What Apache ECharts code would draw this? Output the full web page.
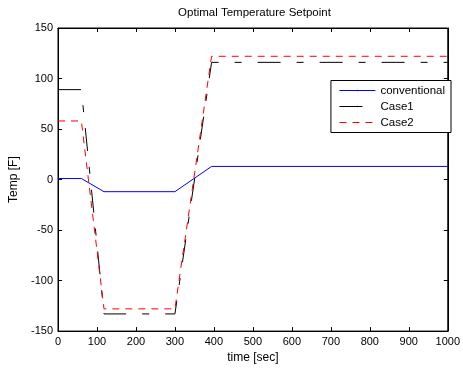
<!DOCTYPE html>
<html>
<head>
<meta charset="utf-8">
<script src="https://cdn.jsdelivr.net/npm/echarts@6/dist/echarts.min.js"></script>
<style>html,body{margin:0;padding:0;background:#fff;}#chart{width:463px;height:369px;}</style>
</head>
<body>
<div id="chart"></div>
<script>
var timeSec = [0, 60, 118, 300, 394, 1000];
var conventional = [1, 1, -12, -12, 13, 13];
var case1 = [89, 89, -133, -133, 116, 116];
var case2 = [58, 58, -128, -128, 122, 122];
var xTicks = [0, 100, 200, 300, 400, 500, 600, 700, 800, 900, 1000];
var yTicks = [-150, -100, -50, 0, 50, 100, 150];
var seriesNames = ['conventional', 'Case1', 'Case2'];

function pairs(vals) { return timeSec.map(function (t, i) { return [t, vals[i]]; }); }

var FONT = '"Liberation Sans", Arial, sans-serif';
var colors = ['#0000ff', '#000000', '#ff0000'];
var dashes = ['solid', [23, 16, 7, 16], [7, 6]];
var chart = echarts.init(document.getElementById('chart'), null, {renderer: 'canvas'});
function axisCommon() {
  return {
    axisLine: {show: true, onZero: false, lineStyle: {color: '#000', width: 1}},
    axisTick: {show: true, inside: true, length: 4, lineStyle: {color: '#000'}},
    splitLine: {show: false}
  };
}
chart.setOption({
  animation: false,
  backgroundColor: '#fff',
  title: {
    text: 'Optimal Temperature Setpoint',
    left: 254.5, top: 7, padding: 0, textAlign: 'center',
    textStyle: {fontFamily: FONT, fontSize: 11.5, fontWeight: 'normal', color: '#000'}
  },
  grid: {left: 58, right: 12, top: 28, bottom: 33, show: true, borderColor: '#000', borderWidth: 1, backgroundColor: '#fff'},
  legend: {
    orient: 'vertical', right: 12, top: 80.5,
    backgroundColor: '#fff', borderColor: '#000', borderWidth: 1, borderRadius: 0,
    padding: [3, 6, 3, 8],
    itemWidth: 36, itemHeight: 2, itemGap: 2,
    lineStyle: {width: 1},
    textStyle: {fontFamily: FONT, fontSize: 11.5, color: '#000', lineHeight: 14},
    data: seriesNames.map(function (n, i) {
      return {name: n, lineStyle: {color: colors[i], width: 1, type: dashes[i]}};
    })
  },
  xAxis: [
    Object.assign(axisCommon(), {
      type: 'value', min: xTicks[0], max: xTicks[xTicks.length - 1], interval: 100, position: 'bottom',
      name: 'time [sec]', nameLocation: 'middle', nameGap: 19,
      nameTextStyle: {fontFamily: FONT, fontSize: 12, color: '#000'},
      axisLabel: {fontFamily: FONT, fontSize: 11, color: '#000', margin: 5, formatter: function (v) { return String(v); }}
    }),
    Object.assign(axisCommon(), {
      type: 'value', min: xTicks[0], max: xTicks[xTicks.length - 1], interval: 100, position: 'top',
      axisLabel: {show: false}
    })
  ],
  yAxis: [
    Object.assign(axisCommon(), {
      type: 'value', min: yTicks[0], max: yTicks[yTicks.length - 1], interval: 50, position: 'left',
      name: 'Temp [F]', nameLocation: 'middle', nameGap: 33, nameRotate: 90,
      nameTextStyle: {fontFamily: FONT, fontSize: 12, color: '#000'},
      axisLabel: {fontFamily: FONT, fontSize: 11, color: '#000', margin: 5, formatter: function (v) { return String(v); }}
    }),
    Object.assign(axisCommon(), {
      type: 'value', min: yTicks[0], max: yTicks[yTicks.length - 1], interval: 50, position: 'right',
      axisLabel: {show: false}
    })
  ],
  series: [
    {name: seriesNames[0], type: 'line', data: pairs(conventional), symbol: 'none', showSymbol: false,
     itemStyle: {color: colors[0]}, lineStyle: {color: colors[0], width: 1, type: dashes[0]}, z: 3},
    {name: seriesNames[1], type: 'line', data: pairs(case1), symbol: 'none', showSymbol: false,
     itemStyle: {color: colors[1]}, lineStyle: {color: colors[1], width: 1, type: dashes[1]}, z: 2},
    {name: seriesNames[2], type: 'line', data: pairs(case2), symbol: 'none', showSymbol: false,
     itemStyle: {color: colors[2]}, lineStyle: {color: colors[2], width: 1, type: dashes[2]}, z: 4}
  ]
});
</script>
</body>
</html>
